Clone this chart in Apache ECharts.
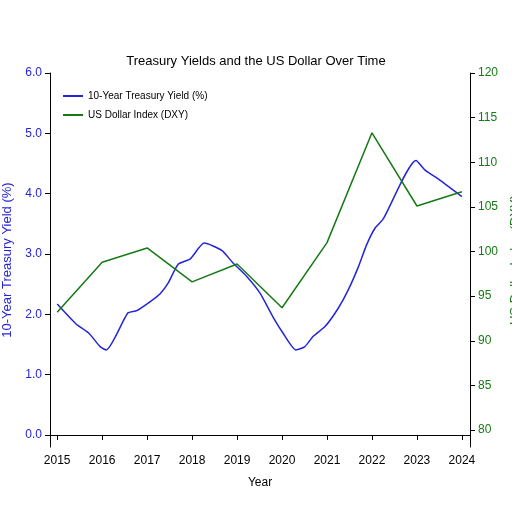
<!DOCTYPE html><html><head><meta charset="utf-8"><script src="https://cdn.jsdelivr.net/npm/echarts@6/dist/echarts.min.js"></script></head><body style="margin:0"><div id="c" style="width:512px;height:512px"></div><script>
const yieldX=[2015.0,2015.42,2015.70,2015.96,2016.09,2016.57,2016.77,2017.07,2017.29,2017.47,2017.69,2017.96,2018.27,2018.66,2018.91,2019.21,2019.51,2019.81,2020.02,2020.31,2020.50,2020.70,2020.96,2021.25,2021.47,2021.70,2021.88,2022.07,2022.25,2022.98,2023.18,2023.44,2024.0];
const yieldY=[2.17,1.84,1.69,1.46,1.41,2.02,2.06,2.21,2.34,2.52,2.83,2.92,3.18,3.06,2.85,2.63,2.35,1.94,1.69,1.41,1.46,1.64,1.80,2.10,2.40,2.79,3.15,3.43,3.58,4.55,4.39,4.26,3.95];
const years=[2015,2016,2017,2018,2019,2020,2021,2022,2023,2024];
const dxy=[93.2,98.8,100.4,96.6,98.6,93.7,101.0,113.3,105.1,106.7];
const leftTicks=[0,1,2,3,4,5,6];
const rightTicks=[80,85,90,95,100,105,110,115,120];
const c=echarts.init(document.getElementById('c'));
const blue='#2424d8',green='#157a15';
c.setOption({
 title:{text:'Treasury Yields and the US Dollar Over Time',left:'center',top:50,textStyle:{fontSize:13,fontWeight:'normal',color:'#000',fontFamily:'Liberation Sans'}},
 legend:{left:58,top:86,orient:'vertical',itemGap:9,itemWidth:20,itemHeight:2,icon:'rect',textStyle:{fontSize:10,color:'#000',fontFamily:'Liberation Sans'},data:['10-Year Treasury Yield (%)','US Dollar Index (DXY)']},
 grid:{left:50,right:42,top:73,bottom:65,outerBoundsMode:'none',containLabel:false},
 xAxis:{type:'value',min:2014.84,max:2024.18,name:'Year',nameLocation:'middle',nameGap:30,nameTextStyle:{fontSize:12,fontFamily:'Liberation Sans'},
  axisLine:{lineStyle:{color:'#000'}},axisTick:{customValues:years,lineStyle:{color:'#000'}},
  axisLabel:{customValues:years,color:'#000',fontSize:12,fontFamily:'Liberation Sans',formatter:v=>String(Math.round(v))},splitLine:{show:false}},
 yAxis:[{type:'value',min:-0.2,max:6,name:'10-Year Treasury Yield (%)',nameLocation:'middle',nameGap:32,nameTextStyle:{color:blue,fontSize:13,fontFamily:'Liberation Sans'},
  axisLine:{show:true,lineStyle:{color:'#000'}},axisTick:{show:true,customValues:leftTicks},
  axisLabel:{customValues:leftTicks,color:blue,fontSize:12,fontFamily:'Liberation Sans',formatter:v=>v.toFixed(1)},splitLine:{show:false}},
  {type:'value',min:78.1,max:120,position:'right',name:'US Dollar Index (DXY)',nameLocation:'middle',nameGap:32,nameRotate:90,nameTextStyle:{color:green,fontSize:13,fontFamily:'Liberation Sans'},
  axisLine:{show:true,lineStyle:{color:'#000'}},axisTick:{show:true,customValues:rightTicks},
  axisLabel:{customValues:rightTicks,color:green,fontSize:12,fontFamily:'Liberation Sans'},splitLine:{show:false}}],
 series:[{name:'10-Year Treasury Yield (%)',type:'line',data:yieldX.map((x,i)=>[x,yieldY[i]]),showSymbol:false,smooth:0.2,lineStyle:{color:blue,width:1.5},itemStyle:{color:blue}},
  {name:'US Dollar Index (DXY)',type:'line',yAxisIndex:1,data:years.map((x,i)=>[x,dxy[i]]),showSymbol:false,lineStyle:{color:green,width:1.5},itemStyle:{color:green}}]
});
</script></body></html>
